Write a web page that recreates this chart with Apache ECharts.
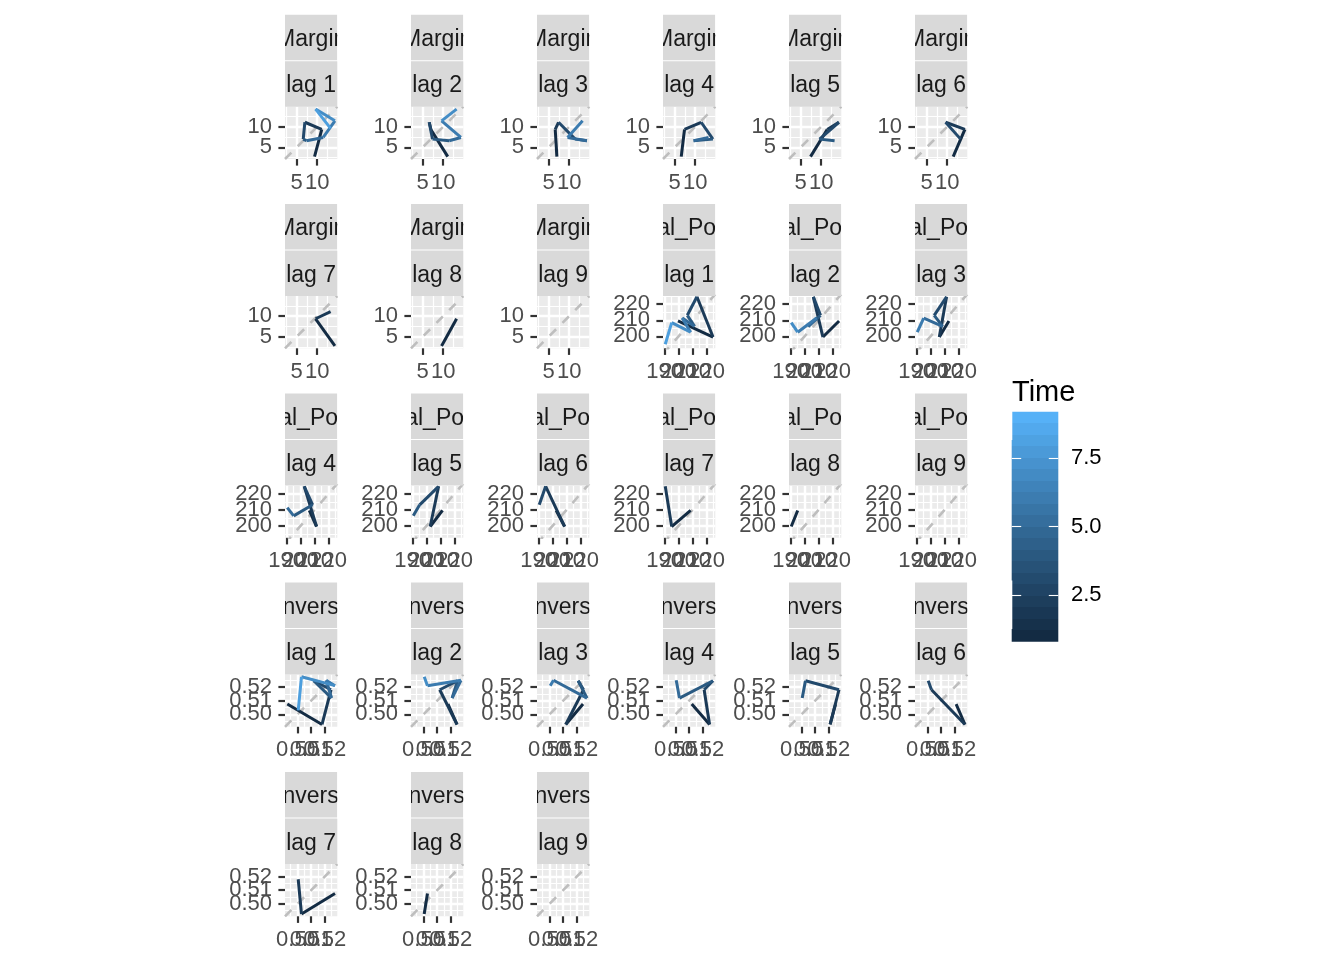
<!DOCTYPE html>
<html><head><meta charset="utf-8">
<script src="https://cdn.jsdelivr.net/npm/echarts@6/dist/echarts.min.js"></script>
<style>html,body{margin:0;padding:0;background:#fff}#c{width:1344px;height:960px}</style>
</head><body><div id="c"></div>
<script>
// ---------------- data ----------------
const seriesNames = ['Margin', 'Total_Points', 'Conversion'];
const margin      = [2.75, 9.35, 11.1, 7.0, 6.6, 7.4, 11.45, 14.3, 9.6, 13.25];
const totalPoints = [209.6, 199.6, 224.6, 213.1, 206.25, 211.4, 202.6, 208.6, 195.1, 190.5];
const conversion  = [0.5075, 0.4925, 0.518, 0.5246, 0.5119, 0.525, 0.521, 0.5275, 0.5029, 0.5005];
const lags = [1, 2, 3, 4, 5, 6, 7, 8, 9];
const xRanges = [[2.17, 14.88], [188.9, 226.2], [0.4908, 0.5292]];
const yRanges = [[2.17, 14.88], [192.6, 225.1], [0.4908, 0.5292]];
const xMajor = [[5, 10], [190, 200, 210, 220], [0.50, 0.51, 0.52]];
const yMajor = [[5, 10], [200, 210, 220], [0.50, 0.51, 0.52]];
const xMinor = [[2.5, 7.5, 12.5], [195, 205, 215, 225], [0.495, 0.505, 0.515, 0.525]];
const yMinor = [[2.5, 7.5, 12.5], [195, 205, 215, 225], [0.495, 0.505, 0.515, 0.525]];
const labelDecimals = [0, 0, 2];
const timeLimits = [1, 9];
const timeTicks = [2.5, 5.0, 7.5];
const legendTitle = 'Time';
const lagPrefix = 'lag ';

// ---------------- layout / style ----------------
const FONT = 'Liberation Sans';
const AXIS_FS = 22, STRIP_FS = 23, TITLE_FS = 29;
const colLeft = [285, 411, 537, 663, 789, 915];
const rowTop = [106.7, 296, 485.5, 674.5, 864];
const PW = 52.3, PH = 52.3;
const LOW = '#132B43', HIGH = '#56B1F7';

// Lab colour interpolation (as ggplot's seq_gradient_pal)
function hex2rgb(h){return [1,3,5].map(i=>parseInt(h.substr(i,2),16)/255);}
function lin(c){return c<=0.04045?c/12.92:Math.pow((c+0.055)/1.055,2.4);}
function unlin(c){return c<=0.0031308?12.92*c:1.055*Math.pow(c,1/2.4)-0.055;}
const Xn=0.95047,Yn=1,Zn=1.08883,EPS=216/24389,KAP=24389/27;
function toLab(h){const [r,g,b]=hex2rgb(h).map(lin);
  const X=(0.4124564*r+0.3575761*g+0.1804375*b)/Xn,Y=(0.2126729*r+0.7151522*g+0.0721750*b)/Yn,Z=(0.0193339*r+0.1191920*g+0.9503041*b)/Zn;
  const f=t=>t>EPS?Math.cbrt(t):(KAP*t+16)/116;const fx=f(X),fy=f(Y),fz=f(Z);
  return [116*fy-16,500*(fx-fy),200*(fy-fz)];}
function fromLab(L,a,b){const fy=(L+16)/116,fx=fy+a/500,fz=fy-b/200;
  const fi=f=>{const f3=f*f*f;return f3>EPS?f3:(116*f-16)/KAP;};
  const X=fi(fx)*Xn,Y=fi(fy)*Yn,Z=fi(fz)*Zn;
  let r=3.2404542*X-1.5371385*Y-0.4985314*Z,g=-0.9692660*X+1.8760108*Y+0.0415560*Z,bb=0.0556434*X-0.2040259*Y+1.0572252*Z;
  return '#'+[r,g,bb].map(c=>{c=Math.round(Math.min(1,Math.max(0,unlin(c)))*255);return c.toString(16).padStart(2,'0');}).join('');}
const labLow=toLab(LOW),labHigh=toLab(HIGH);
function timeColor(t){const f=(t-timeLimits[0])/(timeLimits[1]-timeLimits[0]);
  return fromLab(labLow[0]+f*(labHigh[0]-labLow[0]),labLow[1]+f*(labHigh[1]-labLow[1]),labLow[2]+f*(labHigh[2]-labLow[2]));}

const allValues = [margin, totalPoints, conversion];
const grids=[], xAxes=[], yAxes=[], series=[], graphics=[];

// one axis per tick label so that overlapping labels are all kept (as in the reference)
function labelAxis(gridIndex, pos, range, value, fmt, margin) {
  return {type:'value', gridIndex, position:pos, min:range[0], max:range[1],
    axisLine:{show:false}, axisTick:{show:false, customValues:[value]}, splitLine:{show:false},
    axisLabel:{show:true, customValues:[value], formatter:fmt, margin, color:'#4D4D4D', fontSize:AXIS_FS, fontFamily:FONT,
      showMinLabel:true, showMaxLabel:true, hideOverlap:false}};
}

let p = 0;
for (let v = 0; v < 3; v++) {
  const vals = allValues[v];
  for (const k of lags) {
    const r = Math.floor(p / 6), c = p % 6;
    const L = colLeft[c], T = rowTop[r];
    grids.push({left:L, top:T, width:PW, height:PH, show:true, backgroundColor:'#EBEBEB', borderWidth:0, containLabel:false, outerBoundsMode:'none'});
    const dec = labelDecimals[v];
    const fmt = val => Number(val).toFixed(dec);
    const xi = xAxes.length, yi = yAxes.length;
    // main axes: ticks + major grid lines
    xAxes.push({type:'value', gridIndex:p, position:'bottom', min:xRanges[v][0], max:xRanges[v][1],
      axisLine:{show:false}, axisLabel:{show:false},
      axisTick:{show:true, customValues:xMajor[v], length:6.6, lineStyle:{color:'#333333', width:2.2}},
      splitLine:{show:true, lineStyle:{color:'#FFFFFF', width:2.4}}, z:1});
    yAxes.push({type:'value', gridIndex:p, position:'left', min:yRanges[v][0], max:yRanges[v][1],
      axisLine:{show:false}, axisLabel:{show:false},
      axisTick:{show:true, customValues:yMajor[v], length:6.6, lineStyle:{color:'#333333', width:2.2}},
      splitLine:{show:true, lineStyle:{color:'#FFFFFF', width:2.4}}, z:1});
    // minor grid lines
    xAxes.push({type:'value', gridIndex:p, position:'top', min:xRanges[v][0], max:xRanges[v][1],
      axisLine:{show:false}, axisTick:{show:false, customValues:xMinor[v]}, axisLabel:{show:false},
      splitLine:{show:true, lineStyle:{color:'#FFFFFF', width:1.2}}, z:0});
    yAxes.push({type:'value', gridIndex:p, position:'right', min:yRanges[v][0], max:yRanges[v][1],
      axisLine:{show:false}, axisTick:{show:false, customValues:yMinor[v]}, axisLabel:{show:false},
      splitLine:{show:true, lineStyle:{color:'#FFFFFF', width:1.2}}, z:0});
    // tick labels
    for (const val of xMajor[v]) xAxes.push(labelAxis(p, 'bottom', xRanges[v], val, fmt, 12.5));
    for (const val of yMajor[v]) yAxes.push(labelAxis(p, 'left', yRanges[v], val, fmt, 13));
    // y = x reference line
    const lo = Math.min(xRanges[v][0], yRanges[v][0]), hi = Math.max(xRanges[v][1], yRanges[v][1]);
    series.push({type:'line', xAxisIndex:xi, yAxisIndex:yi, data:[[lo,lo],[hi,hi]], symbol:'none', silent:true, clip:true,
      lineStyle:{color:'#BEBEBE', width:2.6, type:[9,9]}, z:2});
    // lag path: point t = (value[t+k], value[t]), coloured by time t
    const segs = [];
    const n = vals.length;
    for (let t = 0; t + k + 1 < n; t++) {
      segs.push({coords:[[vals[t+k], vals[t]], [vals[t+k+1], vals[t+1]]], lineStyle:{color:timeColor(t+1)}});
    }
    if (segs.length) series.push({type:'lines', coordinateSystem:'cartesian2d', xAxisIndex:xi, yAxisIndex:yi, silent:true,
      data:segs, lineStyle:{width:3, opacity:1, curveness:0, cap:'butt'}, z:3});
    // strips
    const s1t = T - 92, s1h = 45.5, s2t = T - 45.5, s2h = 45.5;
    graphics.push({type:'rect', shape:{x:L, y:s1t, width:PW, height:s1h}, style:{fill:'#D9D9D9'}, z:5, silent:true});
    graphics.push({type:'rect', shape:{x:L, y:s2t, width:PW, height:s2h}, style:{fill:'#D9D9D9'}, z:5, silent:true});
    graphics.push({type:'text', x:L+PW/2, y:s1t+s1h/2+2, style:{text:seriesNames[v], fontSize:STRIP_FS, fontFamily:FONT, fill:'#1A1A1A',
      align:'center', verticalAlign:'middle', textAlign:'center', textVerticalAlign:'middle'}, z:6, silent:true});
    graphics.push({type:'text', x:L+PW/2, y:s2t+s2h/2+2, style:{text:lagPrefix+k, fontSize:STRIP_FS, fontFamily:FONT, fill:'#1A1A1A',
      align:'center', verticalAlign:'middle', textAlign:'center', textVerticalAlign:'middle'}, z:6, silent:true});
    graphics.push({type:'rect', shape:{x:L-45, y:s1t-2, width:45, height:s1h+3}, style:{fill:'#FFFFFF'}, z:7, silent:true});
    graphics.push({type:'rect', shape:{x:L+PW, y:s1t-2, width:45, height:s1h+3}, style:{fill:'#FFFFFF'}, z:7, silent:true});
    p++;
  }
}

// ---------------- colour bar legend ----------------
const nbin = 20;
const stops = [];
for (let i = 0; i < nbin; i++) {
  const col = timeColor(timeLimits[0] + (timeLimits[1]-timeLimits[0]) * i / (nbin - 1));
  stops.push({offset:i/nbin, color:col}, {offset:(i+1)/nbin, color:col});
}
const lg = grids.length;
grids.push({left:1011.7, top:411.7, width:46.6, height:230, show:true, borderWidth:0,
  backgroundColor:{type:'linear', x:0, y:1, x2:0, y2:0, colorStops:stops}, outerBoundsMode:'none'});
xAxes.push({type:'value', gridIndex:lg, show:false, min:0, max:1});
const span = timeLimits[1]-timeLimits[0];
const barMin = timeLimits[0] - span * (0.5/nbin) / (1 - 1/nbin);
const barMax = timeLimits[1] + span * (0.5/nbin) / (1 - 1/nbin);
yAxes.push({type:'value', gridIndex:lg, position:'left', min:barMin, max:barMax, axisLine:{show:false},
  axisTick:{show:true, inside:true, customValues:timeTicks, length:9.5, lineStyle:{color:'#FFFFFF', width:1.1}},
  axisLabel:{show:false}, splitLine:{show:false}});
yAxes.push({type:'value', gridIndex:lg, position:'right', min:barMin, max:barMax, axisLine:{show:false},
  axisTick:{show:true, inside:true, customValues:timeTicks, length:9.5, lineStyle:{color:'#FFFFFF', width:1.1}},
  axisLabel:{show:true, customValues:timeTicks, formatter:val=>Number(val).toFixed(1), margin:12.7, color:'#000000',
    fontSize:AXIS_FS, fontFamily:FONT, showMinLabel:true, showMaxLabel:true, hideOverlap:false},
  splitLine:{show:false}});

const chart = echarts.init(document.getElementById('c'), null, {renderer:'canvas'});
chart.setOption({
  animation:false,
  backgroundColor:'#FFFFFF',
  textStyle:{fontFamily:FONT},
  title:{text:legendTitle, left:1012, top:378, padding:0, textStyle:{fontSize:TITLE_FS, fontWeight:'normal', color:'#000000', fontFamily:FONT}},
  grid:grids, xAxis:xAxes, yAxis:yAxes, series:series, graphic:graphics
});
</script>
</body></html>
